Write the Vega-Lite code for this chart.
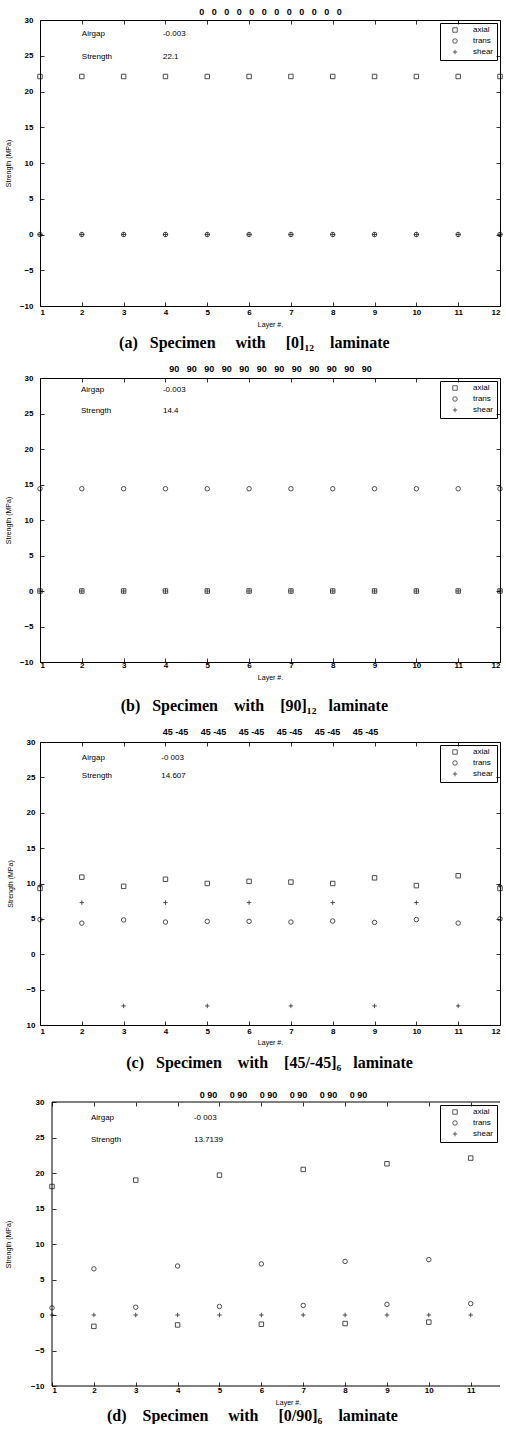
{
  "$schema": "https://vega.github.io/schema/vega-lite/v6.json",
  "padding": {"left": 3, "top": 7, "right": 0, "bottom": 0},
  "background": "white",
  "columns": 1,
  "spacing": 12,
  "config": {
    "view": {"stroke": "black", "strokeWidth": 1},
    "axis": {"domain": false, "grid": false, "tickColor": "black", "tickSize": -4, "tickWidth": 0.8,
      "labelFont": "Liberation Sans", "labelFontWeight": "bold", "labelFontSize": 8, "labelColor": "black",
      "titleFont": "Liberation Sans", "titleFontSize": 7, "titleFontWeight": "normal", "titleColor": "black"},
    "legend": {"orient": "top-right", "offset": 3, "strokeColor": "black", "padding": 3, "labelFont": "Liberation Sans",
      "labelFontSize": 8, "labelColor": "black", "symbolSize": 20, "symbolStrokeWidth": 0.9, "symbolStrokeColor": "black",
      "symbolFillColor": "transparent", "rowPadding": 1, "labelOffset": 14, "symbolOffset": 8, "title": null,
      "labelExpr": "datum.label + '\u00a0\u00a0\u00a0\u00a0\u00a0\u00a0\u00a0\u00a0\u00a0\u00a0'"},
    "title": {"font": "Liberation Serif", "fontSize": 16, "fontWeight": "bold", "color": "black"}
  },
  "resolve": {"scale": {"shape": "independent"}, "legend": {"shape": "independent"}},
  "datasets": {
    "pts": [
      {"p":"a","layer":1,"series":"axial","value":22.1},{"p":"a","layer":1,"series":"trans","value":0},{"p":"a","layer":1,"series":"shear","value":0},
      {"p":"a","layer":2,"series":"axial","value":22.1},{"p":"a","layer":2,"series":"trans","value":0},{"p":"a","layer":2,"series":"shear","value":0},
      {"p":"a","layer":3,"series":"axial","value":22.1},{"p":"a","layer":3,"series":"trans","value":0},{"p":"a","layer":3,"series":"shear","value":0},
      {"p":"a","layer":4,"series":"axial","value":22.1},{"p":"a","layer":4,"series":"trans","value":0},{"p":"a","layer":4,"series":"shear","value":0},
      {"p":"a","layer":5,"series":"axial","value":22.1},{"p":"a","layer":5,"series":"trans","value":0},{"p":"a","layer":5,"series":"shear","value":0},
      {"p":"a","layer":6,"series":"axial","value":22.1},{"p":"a","layer":6,"series":"trans","value":0},{"p":"a","layer":6,"series":"shear","value":0},
      {"p":"a","layer":7,"series":"axial","value":22.1},{"p":"a","layer":7,"series":"trans","value":0},{"p":"a","layer":7,"series":"shear","value":0},
      {"p":"a","layer":8,"series":"axial","value":22.1},{"p":"a","layer":8,"series":"trans","value":0},{"p":"a","layer":8,"series":"shear","value":0},
      {"p":"a","layer":9,"series":"axial","value":22.1},{"p":"a","layer":9,"series":"trans","value":0},{"p":"a","layer":9,"series":"shear","value":0},
      {"p":"a","layer":10,"series":"axial","value":22.1},{"p":"a","layer":10,"series":"trans","value":0},{"p":"a","layer":10,"series":"shear","value":0},
      {"p":"a","layer":11,"series":"axial","value":22.1},{"p":"a","layer":11,"series":"trans","value":0},{"p":"a","layer":11,"series":"shear","value":0},
      {"p":"a","layer":12,"series":"axial","value":22.1},{"p":"a","layer":12,"series":"trans","value":0},{"p":"a","layer":12,"series":"shear","value":0},
      {"p":"b","layer":1,"series":"axial","value":0},{"p":"b","layer":1,"series":"trans","value":14.4},{"p":"b","layer":1,"series":"shear","value":0},
      {"p":"b","layer":2,"series":"axial","value":0},{"p":"b","layer":2,"series":"trans","value":14.4},{"p":"b","layer":2,"series":"shear","value":0},
      {"p":"b","layer":3,"series":"axial","value":0},{"p":"b","layer":3,"series":"trans","value":14.4},{"p":"b","layer":3,"series":"shear","value":0},
      {"p":"b","layer":4,"series":"axial","value":0},{"p":"b","layer":4,"series":"trans","value":14.4},{"p":"b","layer":4,"series":"shear","value":0},
      {"p":"b","layer":5,"series":"axial","value":0},{"p":"b","layer":5,"series":"trans","value":14.4},{"p":"b","layer":5,"series":"shear","value":0},
      {"p":"b","layer":6,"series":"axial","value":0},{"p":"b","layer":6,"series":"trans","value":14.4},{"p":"b","layer":6,"series":"shear","value":0},
      {"p":"b","layer":7,"series":"axial","value":0},{"p":"b","layer":7,"series":"trans","value":14.4},{"p":"b","layer":7,"series":"shear","value":0},
      {"p":"b","layer":8,"series":"axial","value":0},{"p":"b","layer":8,"series":"trans","value":14.4},{"p":"b","layer":8,"series":"shear","value":0},
      {"p":"b","layer":9,"series":"axial","value":0},{"p":"b","layer":9,"series":"trans","value":14.4},{"p":"b","layer":9,"series":"shear","value":0},
      {"p":"b","layer":10,"series":"axial","value":0},{"p":"b","layer":10,"series":"trans","value":14.4},{"p":"b","layer":10,"series":"shear","value":0},
      {"p":"b","layer":11,"series":"axial","value":0},{"p":"b","layer":11,"series":"trans","value":14.4},{"p":"b","layer":11,"series":"shear","value":0},
      {"p":"b","layer":12,"series":"axial","value":0},{"p":"b","layer":12,"series":"trans","value":14.4},{"p":"b","layer":12,"series":"shear","value":0},
      {"p":"c","layer":1,"series":"axial","value":9.3},{"p":"c","layer":1,"series":"trans","value":4.9},{"p":"c","layer":1,"series":"shear","value":9.7},
      {"p":"c","layer":2,"series":"axial","value":10.9},{"p":"c","layer":2,"series":"trans","value":4.4},{"p":"c","layer":2,"series":"shear","value":7.3},
      {"p":"c","layer":3,"series":"axial","value":9.6},{"p":"c","layer":3,"series":"trans","value":4.85},{"p":"c","layer":3,"series":"shear","value":-7.3},
      {"p":"c","layer":4,"series":"axial","value":10.6},{"p":"c","layer":4,"series":"trans","value":4.55},{"p":"c","layer":4,"series":"shear","value":7.3},
      {"p":"c","layer":5,"series":"axial","value":10.0},{"p":"c","layer":5,"series":"trans","value":4.65},{"p":"c","layer":5,"series":"shear","value":-7.3},
      {"p":"c","layer":6,"series":"axial","value":10.3},{"p":"c","layer":6,"series":"trans","value":4.65},{"p":"c","layer":6,"series":"shear","value":7.3},
      {"p":"c","layer":7,"series":"axial","value":10.2},{"p":"c","layer":7,"series":"trans","value":4.55},{"p":"c","layer":7,"series":"shear","value":-7.3},
      {"p":"c","layer":8,"series":"axial","value":10.0},{"p":"c","layer":8,"series":"trans","value":4.7},{"p":"c","layer":8,"series":"shear","value":7.3},
      {"p":"c","layer":9,"series":"axial","value":10.8},{"p":"c","layer":9,"series":"trans","value":4.5},{"p":"c","layer":9,"series":"shear","value":-7.3},
      {"p":"c","layer":10,"series":"axial","value":9.7},{"p":"c","layer":10,"series":"trans","value":4.9},{"p":"c","layer":10,"series":"shear","value":7.3},
      {"p":"c","layer":11,"series":"axial","value":11.1},{"p":"c","layer":11,"series":"trans","value":4.4},{"p":"c","layer":11,"series":"shear","value":-7.3},
      {"p":"c","layer":12,"series":"axial","value":9.3},{"p":"c","layer":12,"series":"trans","value":5.0},{"p":"c","layer":12,"series":"shear","value":9.7},
      {"p":"d","layer":1,"series":"axial","value":18.1},{"p":"d","layer":1,"series":"trans","value":1.0},{"p":"d","layer":1,"series":"shear","value":0},
      {"p":"d","layer":2,"series":"axial","value":-1.6},{"p":"d","layer":2,"series":"trans","value":6.5},{"p":"d","layer":2,"series":"shear","value":0},
      {"p":"d","layer":3,"series":"axial","value":19.0},{"p":"d","layer":3,"series":"trans","value":1.1},{"p":"d","layer":3,"series":"shear","value":0},
      {"p":"d","layer":4,"series":"axial","value":-1.4},{"p":"d","layer":4,"series":"trans","value":6.9},{"p":"d","layer":4,"series":"shear","value":0},
      {"p":"d","layer":5,"series":"axial","value":19.7},{"p":"d","layer":5,"series":"trans","value":1.2},{"p":"d","layer":5,"series":"shear","value":0},
      {"p":"d","layer":6,"series":"axial","value":-1.3},{"p":"d","layer":6,"series":"trans","value":7.2},{"p":"d","layer":6,"series":"shear","value":0},
      {"p":"d","layer":7,"series":"axial","value":20.5},{"p":"d","layer":7,"series":"trans","value":1.35},{"p":"d","layer":7,"series":"shear","value":0},
      {"p":"d","layer":8,"series":"axial","value":-1.2},{"p":"d","layer":8,"series":"trans","value":7.55},{"p":"d","layer":8,"series":"shear","value":0},
      {"p":"d","layer":9,"series":"axial","value":21.3},{"p":"d","layer":9,"series":"trans","value":1.5},{"p":"d","layer":9,"series":"shear","value":0},
      {"p":"d","layer":10,"series":"axial","value":-1.0},{"p":"d","layer":10,"series":"trans","value":7.8},{"p":"d","layer":10,"series":"shear","value":0},
      {"p":"d","layer":11,"series":"axial","value":22.1},{"p":"d","layer":11,"series":"trans","value":1.6},{"p":"d","layer":11,"series":"shear","value":0}
    ],
    "one": [{}]
  },
  "concat": [
    {
      "width": 460, "height": 286,
      "title": {"text": "(a)\u00a0\u00a0\u00a0Specimen\u00a0\u00a0\u00a0\u00a0\u00a0with\u00a0\u00a0\u00a0\u00a0\u00a0[0]₁₂\u00a0\u00a0\u00a0\u00a0laminate", "orient": "bottom", "frame": "bounds", "anchor": "middle", "offset": 8},
      "layer": [
        {"data": {"name": "pts"}, "transform": [{"filter": "datum.p == 'a'"}],
         "mark": {"type": "point", "filled": false, "color": "black", "strokeWidth": 1, "size": 20},
         "encoding": {
           "x": {"field": "layer", "type": "quantitative", "scale": {"domain": [1, 12], "nice": false, "zero": false},
                 "axis": {"orient": "bottom", "values": [1,2,3,4,5,6,7,8,9,10,11,12], "title": "Layer #.", "labelPadding": 6, "titlePadding": 4}},
           "y": {"field": "value", "type": "quantitative", "scale": {"domain": [-10, 30], "nice": false, "zero": false},
                 "axis": {"orient": "left", "values": [-10,-5,0,5,10,15,20,25,30], "title": "Strength (MPa)", "labelPadding": 11, "titlePadding": 8}},
           "shape": {"field": "series", "type": "nominal", "scale": {"domain": ["axial", "trans", "shear"], "range": ["square", "circle", "M-1,0L1,0M0,-1L0,1"]}}
         }},
        {"data": {"name": "one"}, "mark": {"type": "text", "align": "left", "baseline": "middle", "font": "Liberation Sans", "fontSize": 8, "fill": "black"},
         "encoding": {"x": {"datum": 2, "type": "quantitative", "axis": null}, "y": {"datum": 28, "type": "quantitative", "axis": null}, "text": {"value": "Airgap"}}},
        {"data": {"name": "one"}, "mark": {"type": "text", "align": "left", "baseline": "middle", "font": "Liberation Sans", "fontSize": 8, "fill": "black"},
         "encoding": {"x": {"datum": 2, "type": "quantitative", "axis": null}, "y": {"datum": 24.8, "type": "quantitative", "axis": null}, "text": {"value": "Strength"}}},
        {"data": {"name": "one"}, "mark": {"type": "text", "align": "left", "baseline": "middle", "font": "Liberation Sans", "fontSize": 8, "fill": "black"},
         "encoding": {"x": {"datum": 3.94, "type": "quantitative", "axis": null}, "y": {"datum": 28, "type": "quantitative", "axis": null}, "text": {"value": "-0.003"}}},
        {"data": {"name": "one"}, "mark": {"type": "text", "align": "left", "baseline": "middle", "font": "Liberation Sans", "fontSize": 8, "fill": "black"},
         "encoding": {"x": {"datum": 3.94, "type": "quantitative", "axis": null}, "y": {"datum": 24.8, "type": "quantitative", "axis": null}, "text": {"value": "22.1"}}},
        {"data": {"name": "one"}, "mark": {"type": "point", "opacity": 0},
         "encoding": {
           "x": {"datum": 1, "type": "quantitative", "axis": {"orient": "top", "values": [1,2,3,4,5,6,7,8,9,10,11,12], "labels": false, "title": "0\u00a0\u00a0\u00a00\u00a0\u00a0\u00a00\u00a0\u00a0\u00a00\u00a0\u00a0\u00a00\u00a0\u00a0\u00a00\u00a0\u00a0\u00a00\u00a0\u00a0\u00a00\u00a0\u00a0\u00a00\u00a0\u00a0\u00a00\u00a0\u00a0\u00a00\u00a0\u00a0\u00a00", "titleFontSize": 9, "titleFontWeight": "bold", "titlePadding": 3}},
           "y": {"datum": 0, "type": "quantitative", "axis": {"orient": "right", "values": [-10,-5,0,5,10,15,20,25,30], "labels": false, "title": null}}
         }}
      ],
      "resolve": {"axis": {"x": "independent", "y": "independent"}}
    },
    {
      "width": 460, "height": 284,
      "title": {"text": "(b)\u00a0\u00a0\u00a0Specimen\u00a0\u00a0\u00a0\u00a0with\u00a0\u00a0\u00a0\u00a0[90]₁₂\u00a0\u00a0\u00a0laminate", "orient": "bottom", "frame": "bounds", "anchor": "middle", "offset": 18},
      "layer": [
        {"data": {"name": "pts"}, "transform": [{"filter": "datum.p == 'b'"}],
         "mark": {"type": "point", "filled": false, "color": "black", "strokeWidth": 1, "size": 20},
         "encoding": {
           "x": {"field": "layer", "type": "quantitative", "scale": {"domain": [1, 12], "nice": false, "zero": false},
                 "axis": {"orient": "bottom", "values": [1,2,3,4,5,6,7,8,9,10,11,12], "title": "Layer #.", "labelPadding": 3, "titlePadding": 4}},
           "y": {"field": "value", "type": "quantitative", "scale": {"domain": [-10, 30], "nice": false, "zero": false},
                 "axis": {"orient": "left", "values": [-10,-5,0,5,10,15,20,25,30], "title": "Strength (MPa)", "labelPadding": 11, "titlePadding": 8}},
           "shape": {"field": "series", "type": "nominal", "scale": {"domain": ["axial", "trans", "shear"], "range": ["square", "circle", "M-1,0L1,0M0,-1L0,1"]}}
         }},
        {"data": {"name": "one"}, "mark": {"type": "text", "align": "left", "baseline": "middle", "font": "Liberation Sans", "fontSize": 8, "fill": "black"},
         "encoding": {"x": {"datum": 1.98, "type": "quantitative", "axis": null}, "y": {"datum": 28.3, "type": "quantitative", "axis": null}, "text": {"value": "Airgap"}}},
        {"data": {"name": "one"}, "mark": {"type": "text", "align": "left", "baseline": "middle", "font": "Liberation Sans", "fontSize": 8, "fill": "black"},
         "encoding": {"x": {"datum": 1.98, "type": "quantitative", "axis": null}, "y": {"datum": 25.3, "type": "quantitative", "axis": null}, "text": {"value": "Strength"}}},
        {"data": {"name": "one"}, "mark": {"type": "text", "align": "left", "baseline": "middle", "font": "Liberation Sans", "fontSize": 8, "fill": "black"},
         "encoding": {"x": {"datum": 3.94, "type": "quantitative", "axis": null}, "y": {"datum": 28.3, "type": "quantitative", "axis": null}, "text": {"value": "-0.003"}}},
        {"data": {"name": "one"}, "mark": {"type": "text", "align": "left", "baseline": "middle", "font": "Liberation Sans", "fontSize": 8, "fill": "black"},
         "encoding": {"x": {"datum": 3.94, "type": "quantitative", "axis": null}, "y": {"datum": 25.3, "type": "quantitative", "axis": null}, "text": {"value": "14.4"}}},
        {"data": {"name": "one"}, "mark": {"type": "point", "opacity": 0},
         "encoding": {
           "x": {"datum": 1, "type": "quantitative", "axis": {"orient": "top", "values": [1,2,3,4,5,6,7,8,9,10,11,12], "labels": false, "title": "90\u00a0\u00a0\u00a090\u00a0\u00a0\u00a090\u00a0\u00a0\u00a090\u00a0\u00a0\u00a090\u00a0\u00a0\u00a090\u00a0\u00a0\u00a090\u00a0\u00a0\u00a090\u00a0\u00a0\u00a090\u00a0\u00a0\u00a090\u00a0\u00a0\u00a090\u00a0\u00a0\u00a090", "titleFontSize": 9, "titleFontWeight": "bold", "titlePadding": 4}},
           "y": {"datum": 0, "type": "quantitative", "axis": {"orient": "right", "values": [-10,-5,0,5,10,15,20,25,30], "labels": false, "title": null}}
         }}
      ],
      "resolve": {"axis": {"x": "independent", "y": "independent"}}
    },
    {
      "width": 460, "height": 283,
      "title": {"text": "(c)\u00a0\u00a0\u00a0Specimen\u00a0\u00a0\u00a0\u00a0with\u00a0\u00a0\u00a0\u00a0[45/-45]₆\u00a0\u00a0\u00a0laminate", "orient": "bottom", "frame": "bounds", "anchor": "middle", "offset": 10, "dx": 14,
                "subtitle": "\u00a0", "subtitleFontSize": 6, "subtitlePadding": 0},
      "layer": [
        {"data": {"name": "pts"}, "transform": [{"filter": "datum.p == 'c'"}],
         "mark": {"type": "point", "filled": false, "color": "black", "strokeWidth": 1, "size": 20},
         "encoding": {
           "x": {"field": "layer", "type": "quantitative", "scale": {"domain": [1, 12], "nice": false, "zero": false},
                 "axis": {"orient": "bottom", "values": [1,2,3,4,5,6,7,8,9,10,11,12], "title": "Layer #.", "labelPadding": 6, "titlePadding": 3}},
           "y": {"field": "value", "type": "quantitative", "scale": {"domain": [-10, 30], "nice": false, "zero": false},
                 "axis": {"orient": "left", "values": [-10,-5,0,5,10,15,20,25,30], "labelExpr": "datum.value == -10 ? '10' : datum.label", "title": "Strength (MPa)", "labelPadding": 9, "titlePadding": 12}},
           "shape": {"field": "series", "type": "nominal", "scale": {"domain": ["axial", "trans", "shear"], "range": ["square", "circle", "M-1,0L1,0M0,-1L0,1"]}}
         }},
        {"data": {"name": "one"}, "mark": {"type": "text", "align": "left", "baseline": "middle", "font": "Liberation Sans", "fontSize": 8, "fill": "black"},
         "encoding": {"x": {"datum": 2.0, "type": "quantitative", "axis": null}, "y": {"datum": 27.8, "type": "quantitative", "axis": null}, "text": {"value": "Airgap"}}},
        {"data": {"name": "one"}, "mark": {"type": "text", "align": "left", "baseline": "middle", "font": "Liberation Sans", "fontSize": 8, "fill": "black"},
         "encoding": {"x": {"datum": 2.0, "type": "quantitative", "axis": null}, "y": {"datum": 25.2, "type": "quantitative", "axis": null}, "text": {"value": "Strength"}}},
        {"data": {"name": "one"}, "mark": {"type": "text", "align": "left", "baseline": "middle", "font": "Liberation Sans", "fontSize": 8, "fill": "black"},
         "encoding": {"x": {"datum": 3.9, "type": "quantitative", "axis": null}, "y": {"datum": 27.8, "type": "quantitative", "axis": null}, "text": {"value": "-0 003"}}},
        {"data": {"name": "one"}, "mark": {"type": "text", "align": "left", "baseline": "middle", "font": "Liberation Sans", "fontSize": 8, "fill": "black"},
         "encoding": {"x": {"datum": 3.9, "type": "quantitative", "axis": null}, "y": {"datum": 25.2, "type": "quantitative", "axis": null}, "text": {"value": "14.607"}}},
        {"data": {"name": "one"}, "mark": {"type": "point", "opacity": 0},
         "encoding": {
           "x": {"datum": 1, "type": "quantitative", "axis": {"orient": "top", "values": [1,2,3,4,5,6,7,8,9,10,11,12], "labels": false, "title": "45\u00a0-45\u00a0\u00a0\u00a0\u00a0\u00a045\u00a0-45\u00a0\u00a0\u00a0\u00a0\u00a045\u00a0-45\u00a0\u00a0\u00a0\u00a0\u00a045\u00a0-45\u00a0\u00a0\u00a0\u00a0\u00a045\u00a0-45\u00a0\u00a0\u00a0\u00a0\u00a045\u00a0-45", "titleFontSize": 9, "titleFontWeight": "bold", "titlePadding": 5}},
           "y": {"datum": 0, "type": "quantitative", "axis": {"orient": "right", "values": [-10,-5,0,5,10,15,20,25,30], "labels": false, "title": null}}
         }}
      ],
      "resolve": {"axis": {"x": "independent", "y": "independent"}}
    },
    {
      "width": 460, "height": 284,
      "view": {"stroke": null},
      "title": {"text": "(d)\u00a0\u00a0\u00a0\u00a0Specimen\u00a0\u00a0\u00a0\u00a0\u00a0with\u00a0\u00a0\u00a0\u00a0\u00a0[0/90]₆\u00a0\u00a0\u00a0\u00a0laminate", "orient": "bottom", "frame": "bounds", "anchor": "middle", "offset": 3},
      "layer": [
        {"data": {"name": "pts"}, "transform": [{"filter": "datum.p == 'd'"}],
         "mark": {"type": "point", "filled": false, "color": "black", "strokeWidth": 1, "size": 20},
         "encoding": {
           "x": {"field": "layer", "type": "quantitative", "scale": {"domain": [1, 11.7], "range": [12, 460], "nice": false, "zero": false},
                 "axis": {"orient": "bottom", "values": [1,2,3,4,5,6,7,8,9,10,11], "title": "Layer #.", "labelPadding": 4, "titlePadding": 4, "titleX": 248}},
           "y": {"field": "value", "type": "quantitative", "scale": {"domain": [-10, 30], "nice": false, "zero": false},
                 "axis": {"orient": "left", "offset": -12, "values": [-10,-5,0,5,10,15,20,25,30], "title": "Strength (MPa)", "labelPadding": 12, "titlePadding": 19}},
           "shape": {"field": "series", "type": "nominal", "scale": {"domain": ["axial", "trans", "shear"], "range": ["square", "circle", "M-1,0L1,0M0,-1L0,1"]}}
         }},
        {"data": {"name": "one"}, "mark": {"type": "rule", "color": "black", "strokeWidth": 1},
         "encoding": {"x": {"datum": 1, "type": "quantitative", "axis": null}, "y": {"datum": -10, "type": "quantitative", "axis": null}, "y2": {"datum": 30}}},
        {"data": {"name": "one"}, "mark": {"type": "rule", "color": "black", "strokeWidth": 1},
         "encoding": {"x": {"datum": 1, "type": "quantitative", "axis": null}, "x2": {"datum": 11.7}, "y": {"datum": 30, "type": "quantitative", "axis": null}}},
        {"data": {"name": "one"}, "mark": {"type": "rule", "color": "black", "strokeWidth": 1},
         "encoding": {"x": {"datum": 1, "type": "quantitative", "axis": null}, "x2": {"datum": 11.7}, "y": {"datum": -10, "type": "quantitative", "axis": null}}},
        {"data": {"name": "one"}, "mark": {"type": "text", "align": "left", "baseline": "middle", "font": "Liberation Sans", "fontSize": 8, "fill": "black"},
         "encoding": {"x": {"datum": 1.93, "type": "quantitative", "axis": null}, "y": {"datum": 27.7, "type": "quantitative", "axis": null}, "text": {"value": "Airgap"}}},
        {"data": {"name": "one"}, "mark": {"type": "text", "align": "left", "baseline": "middle", "font": "Liberation Sans", "fontSize": 8, "fill": "black"},
         "encoding": {"x": {"datum": 1.93, "type": "quantitative", "axis": null}, "y": {"datum": 24.6, "type": "quantitative", "axis": null}, "text": {"value": "Strength"}}},
        {"data": {"name": "one"}, "mark": {"type": "text", "align": "left", "baseline": "middle", "font": "Liberation Sans", "fontSize": 8, "fill": "black"},
         "encoding": {"x": {"datum": 4.39, "type": "quantitative", "axis": null}, "y": {"datum": 27.7, "type": "quantitative", "axis": null}, "text": {"value": "-0 003"}}},
        {"data": {"name": "one"}, "mark": {"type": "text", "align": "left", "baseline": "middle", "font": "Liberation Sans", "fontSize": 8, "fill": "black"},
         "encoding": {"x": {"datum": 4.39, "type": "quantitative", "axis": null}, "y": {"datum": 24.6, "type": "quantitative", "axis": null}, "text": {"value": "13.7139"}}},
        {"data": {"name": "one"}, "mark": {"type": "point", "opacity": 0},
         "encoding": {
           "x": {"datum": 1, "type": "quantitative", "axis": {"orient": "top", "values": [1,2,3,4,5,6,7,8,9,10,11], "labels": false, "title": "0\u00a090\u00a0\u00a0\u00a0\u00a0\u00a00\u00a090\u00a0\u00a0\u00a0\u00a0\u00a00\u00a090\u00a0\u00a0\u00a0\u00a0\u00a00\u00a090\u00a0\u00a0\u00a0\u00a0\u00a00\u00a090\u00a0\u00a0\u00a0\u00a0\u00a00\u00a090", "titleFontSize": 9, "titleFontWeight": "bold", "titlePadding": 2, "titleX": 243}},
           "y": {"datum": 0, "type": "quantitative", "axis": {"orient": "right", "values": [-10,-5,0,5,10,15,20,25,30], "labels": false, "ticks": false, "title": null}}
         }}
      ],
      "resolve": {"axis": {"x": "independent", "y": "independent"}}
    }
  ]
}
